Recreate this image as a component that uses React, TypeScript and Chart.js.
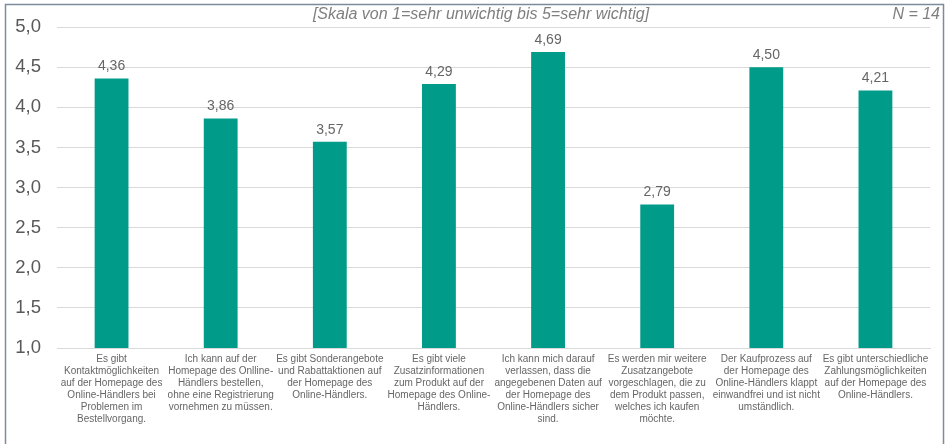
import React, { useEffect, useRef } from "react";
import { Chart, registerables } from "chart.js";

Chart.register(...registerables);

const categories: string[][] = [
  ["Es gibt", "Kontaktmöglichkeiten", "auf der Homepage des", "Online-Händlers bei", "Problemen im", "Bestellvorgang."],
  ["Ich kann auf der", "Homepage des Onlline-", "Händlers bestellen,", "ohne eine Registrierung", "vornehmen zu müssen."],
  ["Es gibt Sonderangebote", "und Rabattaktionen auf", "der Homepage des", "Online-Händlers."],
  ["Es gibt viele", "Zusatzinformationen", "zum Produkt auf der", "Homepage des Online-", "Händlers."],
  ["Ich kann mich darauf", "verlassen, dass die", "angegebenen Daten auf", "der Homepage des", "Online-Händlers sicher", "sind."],
  ["Es werden mir weitere", "Zusatzangebote", "vorgeschlagen, die zu", "dem Produkt passen,", "welches ich kaufen", "möchte."],
  ["Der Kaufprozess auf", "der Homepage des", "Online-Händlers klappt", "einwandfrei und ist nicht", "umständlich."],
  ["Es gibt unterschiedliche", "Zahlungsmöglichkeiten", "auf der Homepage des", "Online-Händlers."],
];
const values: number[] = [4.36, 3.86, 3.57, 4.29, 4.69, 2.79, 4.5, 4.21];
const yTicks: number[] = [1, 1.5, 2, 2.5, 3, 3.5, 4, 4.5, 5];
const subtitle = "[Skala von 1=sehr unwichtig bis 5=sehr wichtig]";
const nLabel = "N = 14";

const fmt = (v: number) => v.toFixed(1).replace(".", ",");
const fmt2 = (v: number) => v.toFixed(2).replace(".", ",");
const FONT = "'Liberation Sans', Arial, sans-serif";

export default function App() {
  const ref = useRef<HTMLCanvasElement | null>(null);
  useEffect(() => {
    document.body.style.margin = "0";
    const canvas = ref.current!;
    const overlay = {
      id: "overlay",
      afterDatasetsDraw(chart: any) {
        const ctx = chart.ctx;
        ctx.save();
        const meta = chart.getDatasetMeta(0);
        ctx.font = `14px ${FONT}`;
        ctx.fillStyle = "#666666";
        ctx.textAlign = "center";
        ctx.textBaseline = "bottom";
        meta.data.forEach((bar: any, i: number) => {
          ctx.fillText(fmt2(values[i]), bar.x, bar.y - 5);
        });
        ctx.font = `italic 16px ${FONT}`;
        ctx.fillStyle = "#7F7F7F";
        ctx.textBaseline = "middle";
        ctx.textAlign = "center";
        ctx.fillText(subtitle, 481, 15);
        ctx.textAlign = "right";
        ctx.fillText(nLabel, 940, 15);
        ctx.strokeStyle = "#7D8C9B";
        ctx.lineWidth = 1.5;
        ctx.beginPath();
        ctx.moveTo(5.5, 460);
        ctx.lineTo(5.5, 4.5);
        ctx.lineTo(943.5, 4.5);
        ctx.lineTo(943.5, 460);
        ctx.stroke();
        ctx.restore();
      },
    };
    const chart = new Chart(canvas, {
      type: "bar",
      data: {
        labels: categories,
        datasets: [
          {
            data: values,
            backgroundColor: "#009B89",
            barPercentage: 0.31,
            categoryPercentage: 1,
          },
        ],
      },
      options: {
        animation: false,
        responsive: false,
        maintainAspectRatio: false,
        layout: { padding: { left: 7, right: 17, top: 25, bottom: 0 } },
        plugins: { legend: { display: false }, tooltip: { enabled: false } },
        scales: {
          y: {
            min: 1,
            max: 5,
            afterFit: (s: any) => {
              s.width = 50;
            },
            afterBuildTicks: (s: any) => {
              s.ticks = yTicks.map((v) => ({ value: v }));
            },
            ticks: {
              padding: 16,
              color: "#595959",
              font: { size: 18.5, family: FONT },
              callback: (v: any) => fmt(Number(v)),
            },
            grid: { color: "#D9D9D9", drawTicks: false, lineWidth: 1 },
            border: { display: false },
          },
          x: {
            afterFit: (s: any) => {
              s.height = 96;
            },
            ticks: {
              padding: 5,
              color: "#666666",
              maxRotation: 0,
              autoSkip: false,
              font: { size: 10, family: FONT, lineHeight: "12px" as any },
            },
            grid: { display: false, drawTicks: false },
            border: { display: true, color: "#D9D9D9", width: 1 },
          },
        },
      },
      plugins: [overlay],
    });
    return () => chart.destroy();
  }, []);
  return (
    <div style={{ width: 947, height: 444, background: "#fff" }}>
      <canvas ref={ref} width={947} height={444} style={{ display: "block" }} />
    </div>
  );
}
